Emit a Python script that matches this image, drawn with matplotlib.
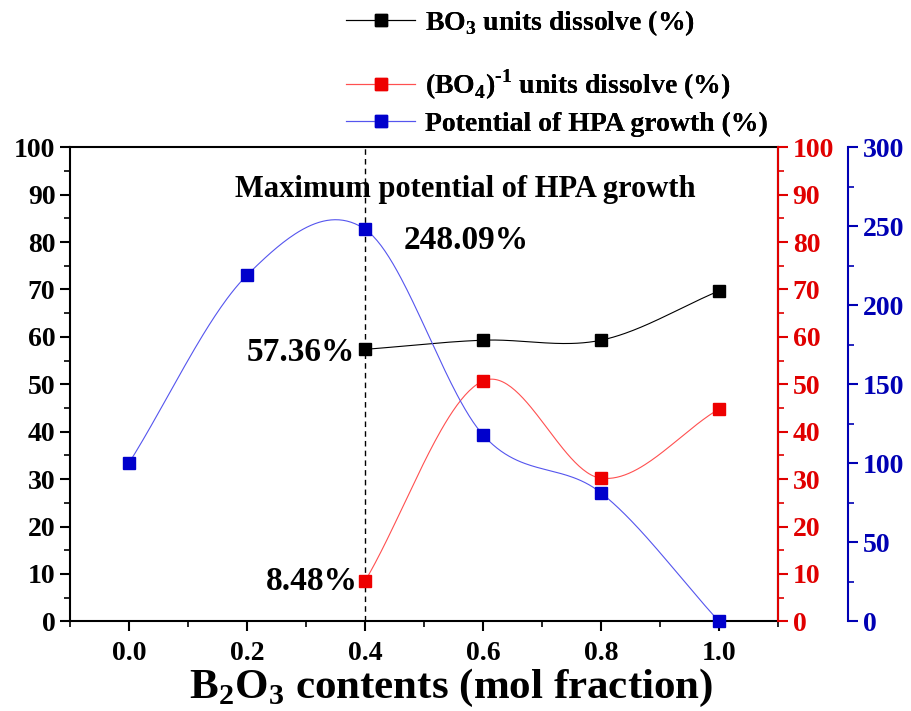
import numpy as np
import matplotlib
matplotlib.use("Agg")
from matplotlib import pyplot as plt
from matplotlib.lines import Line2D
from matplotlib.ticker import MultipleLocator

plt.rcParams['font.family'] = ['Liberation Serif', 'DejaVu Serif']
plt.rcParams['font.weight'] = 'bold'
plt.rcParams['mathtext.fontset'] = 'custom'
plt.rcParams['mathtext.rm'] = 'Liberation Serif:bold'
plt.rcParams['mathtext.bf'] = 'Liberation Serif:bold'

# data
bo3X = [0.4, 0.6, 0.8, 1.0]
bo3Y = [57.36, 59.3, 59.3, 69.7]
bo4X = [0.4, 0.6, 0.8, 1.0]
bo4Y = [8.48, 50.7, 30.2, 44.8]
hpaX = [0.0, 0.2, 0.4, 0.6, 0.8, 1.0]
hpaY = [100.2, 219.0, 248.09, 118.0, 81.3, 0.0]

xTicks = [0.0, 0.2, 0.4, 0.6, 0.8, 1.0]
maxX = 0.4

BLACK = "#000000"
RED = "#E00000"
BLUE = "#0000B4"
RED_LINE = "#FF5050"
BLUE_LINE = "#5555EE"


def spline(x, y, num=60):
    # Catmull-Rom style Hermite curve through the points
    x = np.asarray(x, float)
    y = np.asarray(y, float)
    n = len(x)
    m = np.zeros(n)
    m[0] = (y[1] - y[0]) / (x[1] - x[0])
    m[-1] = (y[-1] - y[-2]) / (x[-1] - x[-2])
    for i in range(1, n - 1):
        m[i] = (y[i + 1] - y[i - 1]) / (x[i + 1] - x[i - 1])
    xs_all = []
    ys_all = []
    for i in range(n - 1):
        h = x[i + 1] - x[i]
        t = np.linspace(0, 1, num)
        h00 = 2 * t ** 3 - 3 * t ** 2 + 1
        h10 = t ** 3 - 2 * t ** 2 + t
        h01 = -2 * t ** 3 + 3 * t ** 2
        h11 = t ** 3 - t ** 2
        xs_all.append(x[i] + t * h)
        ys_all.append(h00 * y[i] + h10 * h * m[i] + h01 * y[i + 1] + h11 * h * m[i + 1])
    return np.concatenate(xs_all), np.concatenate(ys_all)


fig = plt.figure(figsize=(9.11, 7.11), dpi=100)
ax = fig.add_axes([0.0768, 0.126, 0.7773, 0.667])
axR = ax.twinx()
axB = ax.twinx()
axB.spines['right'].set_position(('axes', 1.0987))

tickSize = 20

# black series on left axis
sx, sy = spline(bo3X, bo3Y)
ax.plot(sx, sy, color=BLACK, lw=0.8)
ax.plot(bo3X, bo3Y, ls="none", marker="s", ms=8, color=BLACK)

# red series
sx, sy = spline(bo4X, bo4Y)
axR.plot(sx, sy, color=RED_LINE, lw=0.8)
axR.plot(bo4X, bo4Y, ls="none", marker="s", ms=8, color="#EE0000")

# blue series
sx, sy = spline(hpaX, hpaY)
axB.plot(sx, sy, color=BLUE_LINE, lw=0.8)
axB.plot(hpaX, hpaY, ls="none", marker="s", ms=8, color="#0000CC", clip_on=False, zorder=5)

ax.axvline(maxX, ymin=0, ymax=1, color=BLACK, ls=(0, (4, 3)), lw=1)

ax.set_xlim(-0.1, 1.1)
ax.set_ylim(0, 100)
axR.set_ylim(0, 100)
axB.set_ylim(0, 300)

ax.set_xticks(xTicks)
ax.set_xticklabels(["%.1f" % v for v in xTicks])
ax.xaxis.set_minor_locator(MultipleLocator(0.1))
ax.yaxis.set_major_locator(MultipleLocator(10))
ax.yaxis.set_minor_locator(MultipleLocator(5))
axR.yaxis.set_major_locator(MultipleLocator(10))
axR.yaxis.set_minor_locator(MultipleLocator(5))
axB.yaxis.set_major_locator(MultipleLocator(50))
axB.yaxis.set_minor_locator(MultipleLocator(25))

for a in (ax, axR, axB):
    for s in a.spines.values():
        s.set_linewidth(1.5)
    a.tick_params(which="major", length=7, width=1.5, labelsize=tickSize, direction="out")
    a.tick_params(which="minor", length=4, width=1.2, direction="out")

ax.tick_params(axis="x", pad=7)
axR.spines['right'].set_color(RED)
axR.tick_params(axis="y", which="both", colors=RED)
axB.spines['right'].set_color(BLUE)
axB.tick_params(axis="y", which="both", colors=BLUE)
for a in (axR, axB):
    a.spines['left'].set_visible(False)
    a.spines['top'].set_visible(False)
    a.spines['bottom'].set_visible(False)

# annotations
ax.text(0.57, 91, "Maximum potential of HPA growth", ha="center", va="center",
        fontsize=22, fontweight="bold")
axB.annotate("248.09%", xy=(hpaX[2], hpaY[2]), xytext=(28, -8), textcoords="offset points",
             ha="left", va="center", fontsize=24, fontweight="bold")
ax.annotate("57.36%", xy=(bo3X[0], bo3Y[0]), xytext=(-7, -2), textcoords="offset points",
            ha="right", va="center", fontsize=24, fontweight="bold")
axR.annotate("8.48%", xy=(bo4X[0], bo4Y[0]), xytext=(-5, 0), textcoords="offset points",
             ha="right", va="center", fontsize=24, fontweight="bold")

fig.text(451 / 911, 1 - 688 / 711, r"B$_\mathbf{2}$O$_\mathbf{3}$ contents (mol fraction)",
         ha="center", va="center", fontsize=31, fontweight="bold")

# legend entries stacked above the plot
entries = [
    (BLACK, BLACK, r"BO$_\mathbf{3}$ units dissolve (%)", 23),
    (RED_LINE, "#EE0000", r"(BO$_\mathbf{4}$)$^{\text{-1}}$ units dissolve (%)", 85),
    (BLUE_LINE, "#0000CC", "Potential of HPA growth (%)", 124),
]
for lineColor, markColor, label, yPix in entries:
    h = Line2D([], [], color=lineColor, lw=0.8, marker="s", ms=8,
               markerfacecolor=markColor, markeredgecolor=markColor)
    leg = fig.legend([h], [label], loc="center left", bbox_to_anchor=(346 / 911, 1 - yPix / 711),
                     frameon=False, fontsize=20, handlelength=2.5, handletextpad=0.33,
                     borderpad=0, borderaxespad=0)
    fig.add_artist(leg)

plt.savefig("out.png", dpi=100)
